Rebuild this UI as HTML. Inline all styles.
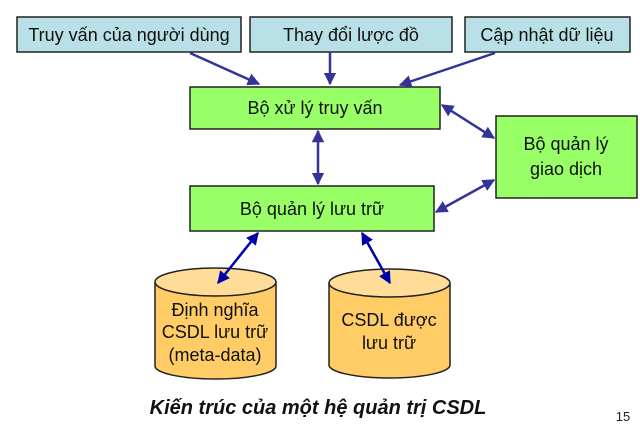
<!DOCTYPE html><html><head><style>body{margin:0;background:#fff}</style></head><body>
<svg width="640" height="439" viewBox="0 0 640 439" xmlns="http://www.w3.org/2000/svg" font-family="Liberation Sans, sans-serif">
<defs><marker id="a" viewBox="0 0 10 10" refX="9" refY="5" markerWidth="5" markerHeight="5" orient="auto-start-reverse"><path d="M0,0L10,5L0,10z" fill="#333399"/></marker>
<marker id="b" viewBox="0 0 10 10" refX="9" refY="5" markerWidth="5" markerHeight="5" orient="auto-start-reverse"><path d="M0,0L10,5L0,10z" fill="#0000aa"/></marker></defs>
<g stroke="#222" stroke-width="1.5">
<rect x="17" y="17" width="224" height="35" fill="#b9e0e6"/>
<rect x="250" y="17" width="202" height="35" fill="#b9e0e6"/>
<rect x="465" y="17" width="165" height="35" fill="#b9e0e6"/>
<rect x="190" y="87" width="250" height="42" fill="#99ff66"/>
<rect x="190" y="186" width="244" height="45" fill="#99ff66"/>
<rect x="496" y="116" width="141" height="82" fill="#99ff66"/>
<path d="M155 282v84a60.5 13 0 0 0 121 0v-84" fill="#ffcc66"/>
<ellipse cx="215.5" cy="282" rx="60.5" ry="14" fill="#ffdd99"/>
<path d="M329 283v82a60.5 13 0 0 0 121 0v-82" fill="#ffcc66"/>
<ellipse cx="389.5" cy="283" rx="60.5" ry="14" fill="#ffdd99"/>
</g>
<g stroke="#333399" stroke-width="2.5" fill="none">
<line x1="190" y1="53" x2="259" y2="84" marker-end="url(#a)"/>
<line x1="330" y1="52" x2="330" y2="84" marker-end="url(#a)"/>
<line x1="495" y1="53" x2="400" y2="85" marker-end="url(#a)"/>
<line x1="318" y1="131" x2="318" y2="184" marker-start="url(#a)" marker-end="url(#a)"/>
<line x1="442" y1="105" x2="494" y2="138" marker-start="url(#a)" marker-end="url(#a)"/>
<line x1="436" y1="212" x2="494" y2="180" marker-start="url(#a)" marker-end="url(#a)"/>
</g>
<g stroke="#0000aa" stroke-width="2.5">
<line x1="258" y1="233" x2="218" y2="283" marker-start="url(#b)" marker-end="url(#b)"/>
<line x1="362" y1="233" x2="390" y2="283" marker-start="url(#b)" marker-end="url(#b)"/>
</g>
<g font-size="18" fill="#111" text-anchor="middle">
<text x="129" y="41">Truy vấn của người dùng</text>
<text x="351" y="41">Thay đổi lược đồ</text>
<text x="547" y="41">Cập nhật dữ liệu</text>
<text x="315" y="114">Bộ xử lý truy vấn</text>
<text x="312" y="215">Bộ quản lý lưu trữ</text>
<text x="566" y="150">Bộ quản lý</text>
<text x="566" y="175">giao dịch</text>
<text x="215" y="316">Định nghĩa</text>
<text x="215" y="338">CSDL lưu trữ</text>
<text x="215" y="361">(meta-data)</text>
<text x="389" y="326">CSDL được</text>
<text x="389" y="349">lưu trữ</text>
</g>
<text x="318" y="414" font-size="20" font-weight="bold" font-style="italic" text-anchor="middle" fill="#111">Kiến trúc của một hệ quản trị CSDL</text>
<text x="623" y="421" font-size="13" text-anchor="middle" fill="#222">15</text>
</svg></body></html>
